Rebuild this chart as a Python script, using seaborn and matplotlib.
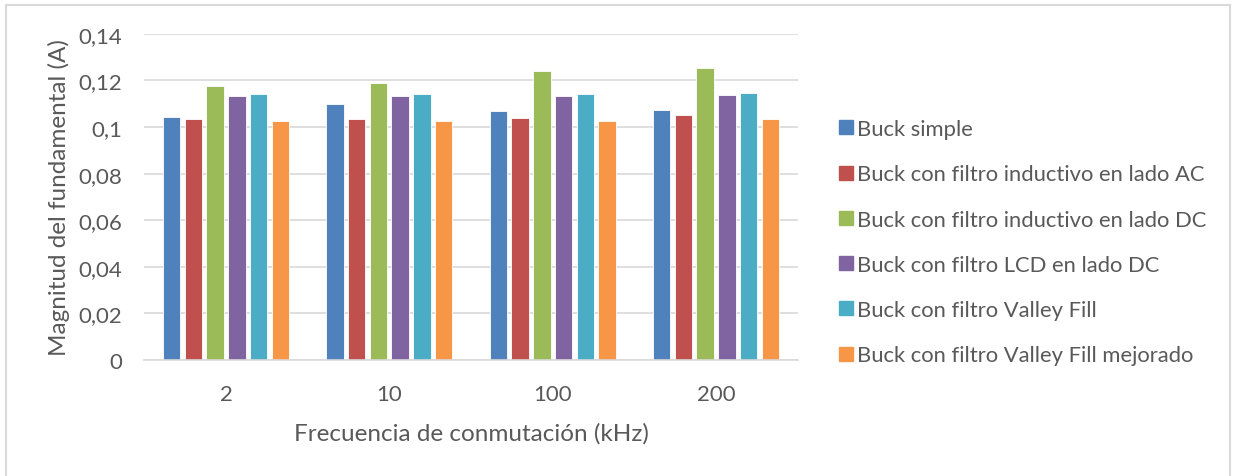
import pandas as pd
import matplotlib.pyplot as plt
import seaborn as sns
from matplotlib.lines import Line2D

# Data
frequencies = ["2", "10", "100", "200"]
series_names = [
    "Buck simple",
    "Buck con filtro inductivo en lado AC",
    "Buck con filtro inductivo en lado DC",
    "Buck con filtro LCD en lado DC",
    "Buck con filtro Valley Fill",
    "Buck con filtro Valley Fill mejorado",
]
buck_simple = [0.1043, 0.1097, 0.1069, 0.1074]
filtro_ind_ac = [0.1033, 0.1034, 0.1039, 0.1050]
filtro_ind_dc = [0.1176, 0.1191, 0.1239, 0.1253]
filtro_lcd_dc = [0.1133, 0.1133, 0.1134, 0.1137]
valley_fill = [0.1140, 0.1140, 0.1143, 0.1148]
valley_fill_mej = [0.1026, 0.1026, 0.1028, 0.1034]

colors = ["#4F81BD", "#C0504D", "#9BBB59", "#8064A2", "#4BACC6", "#F79646"]


def generate_chart():
    all_series = [buck_simple, filtro_ind_ac, filtro_ind_dc,
                  filtro_lcd_dc, valley_fill, valley_fill_mej]
    rows = []
    for name, values in zip(series_names, all_series):
        for f, v in zip(frequencies, values):
            rows.append({"freq": f, "serie": name, "valor": v})
    df = pd.DataFrame(rows)

    sns.set_theme(style="white")
    plt.rcParams["font.family"] = ["Lato", "DejaVu Sans"]
    text_color = "#595959"

    fig = plt.figure(figsize=(12.33, 4.77), dpi=100)
    ax = fig.add_axes([0.117, 0.243, 0.530, 0.684])

    sns.barplot(data=df, x="freq", y="valor", hue="serie", order=frequencies,
                hue_order=series_names, palette=colors, width=0.8, gap=0.2,
                saturation=1, edgecolor="white", linewidth=0.6, ax=ax,
                legend=False)

    ax.set_ylim(0, 0.14)
    ax.set_yticks([0, 0.02, 0.04, 0.06, 0.08, 0.10, 0.12, 0.14])
    ax.set_yticklabels(["0", "0,02", "0,04", "0,06", "0,08", "0,1", "0,12", "0,14"])
    ax.yaxis.grid(True, color="#D9D9D9", linewidth=1.2)
    ax.set_axisbelow(True)
    for side in ["top", "right", "left"]:
        ax.spines[side].set_visible(False)
    ax.spines["bottom"].set_color("#D9D9D9")
    ax.spines["bottom"].set_linewidth(1.2)
    ax.tick_params(axis="both", length=0, colors=text_color, labelsize=16)
    ax.tick_params(axis="y", pad=16)
    ax.tick_params(axis="x", pad=17)

    ax.set_xlabel("Frecuencia de conmutación (kHz)", fontsize=17.5,
                  color=text_color, labelpad=13)
    ax.set_ylabel("Magnitud del fundamental (A)", fontsize=17.5,
                  color=text_color, labelpad=6)

    handles = [Line2D([0], [0], marker="s", linestyle="none", markersize=10,
                      markerfacecolor=c, markeredgecolor=c) for c in colors]
    leg = fig.legend(handles, series_names, loc="center left",
                     bbox_to_anchor=(0.672, 0.49), frameon=False,
                     fontsize=15.8, labelspacing=1.15, handlelength=0.6,
                     handletextpad=0.2, borderpad=0)
    for t in leg.get_texts():
        t.set_color(text_color)

    # light grey chart border (bottom edge is cut off in the reference)
    border = plt.Rectangle((0.005, -0.05), 0.9925, 1.037, transform=fig.transFigure,
                           fill=False, edgecolor="#D9D9D9", linewidth=1.5)
    fig.add_artist(border)

    fig.savefig("out.png", dpi=100, facecolor="white")


if __name__ == "__main__":
    generate_chart()
